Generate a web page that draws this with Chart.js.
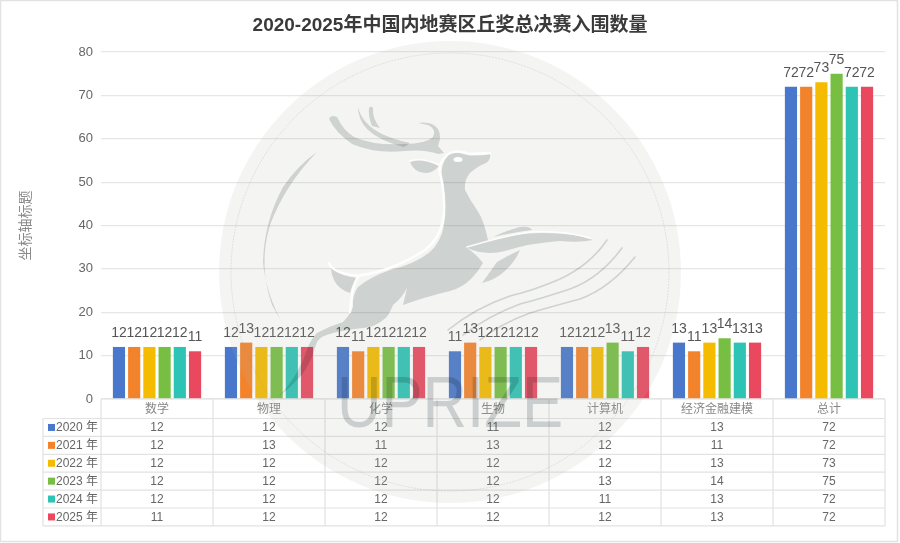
<!DOCTYPE html>
<html>
<head>
<meta charset="utf-8">
<style>
    html, body { margin: 0; padding: 0; background: #fff; }
    canvas { display: block; }
</style>
<script src="https://cdn.jsdelivr.net/npm/chart.js@4"></script>
</head>
<body>
<canvas id="finalistChart" width="900" height="543"></canvas>
<script>
// DATA

const subjects = ["数学", "物理", "化学", "生物", "计算机", "经济金融建模", "总计"];
const yearNames = ["2020 年", "2021 年", "2022 年", "2023 年", "2024 年", "2025 年"];
const values2020 = [12, 12, 12, 11, 12, 13, 72];
const values2021 = [12, 13, 11, 13, 12, 11, 72];
const values2022 = [12, 12, 12, 12, 12, 13, 73];
const values2023 = [12, 12, 12, 12, 13, 14, 75];
const values2024 = [12, 12, 12, 12, 11, 13, 72];
const values2025 = [11, 12, 12, 12, 12, 13, 72];
const yearValues = [values2020, values2021, values2022, values2023, values2024, values2025];
const yearColors = ["#4877cb", "#f2832b", "#f4bb00", "#76bf42", "#2dc3b5", "#e9485f"];

const FONT = '"Liberation Sans", "Noto Sans CJK SC", sans-serif';
const GRID = "#e6e6e6";

// PLUGINS

// value above every bar
const valueLabels = {
    id: "valueLabels",
    afterDatasetsDraw(chart) {
        const ctx = chart.ctx;
        ctx.save();
        ctx.font = "14px " + FONT;
        ctx.fillStyle = "#555";
        ctx.textAlign = "center";
        ctx.textBaseline = "alphabetic";
        chart.data.datasets.forEach((ds, i) => {
            chart.getDatasetMeta(i).data.forEach((bar, j) => {
                ctx.fillText(ds.data[j], bar.x, bar.y - 10);
            });
        });
        ctx.restore();
    }
};

// data table under the axis, columns follow the category scale
const dataTable = {
    id: "dataTable",
    afterDraw(chart) {
        const ctx = chart.ctx;
        const x = chart.scales.x;
        const left = x.left;
        const right = x.right;
        const top = x.top;
        const headH = 19.5;
        const rowH = 17.9;
        const keyLeft = 43;
        const colW = (right - left) / subjects.length;
        const firstRow = top + headH;
        const bottom = firstRow + rowH * yearNames.length;

        ctx.save();
        ctx.strokeStyle = "#e2e2e2";
        ctx.lineWidth = 1.2;
        ctx.beginPath();
        ctx.moveTo(left, top);
        ctx.lineTo(right, top);
        for (let r = 0; r <= yearNames.length; r++) {
            ctx.moveTo(keyLeft, firstRow + r * rowH);
            ctx.lineTo(right, firstRow + r * rowH);
        }
        ctx.moveTo(keyLeft, firstRow);
        ctx.lineTo(keyLeft, bottom);
        for (let c = 0; c <= subjects.length; c++) {
            ctx.moveTo(left + c * colW, top);
            ctx.lineTo(left + c * colW, bottom);
        }
        ctx.stroke();

        ctx.font = "12px " + FONT;
        ctx.textBaseline = "middle";
        yearNames.forEach((name, r) => {
            const y = firstRow + (r + 0.5) * rowH;
            ctx.fillStyle = yearColors[r];
            ctx.fillRect(48, y - 3.5, 7, 7);
            ctx.fillStyle = "#666";
            ctx.textAlign = "left";
            ctx.fillText(name, 56, y + 0.5);
            ctx.textAlign = "center";
            yearValues[r].forEach((v, c) => {
                ctx.fillText(v, x.getPixelForValue(c), y + 0.5);
            });
        });
        ctx.restore();
    }
};

// grey frame round the picture
const frame = {
    id: "frame",
    beforeDraw(chart) {
        const ctx = chart.ctx;
        ctx.save();
        ctx.strokeStyle = "#e2e2e2";
        ctx.lineWidth = 1.5;
        ctx.beginPath();
        ctx.moveTo(0.5, 542);
        ctx.lineTo(0.5, 0.5);
        ctx.lineTo(897.5, 0.5);
        ctx.lineTo(897.5, 541.5);
        ctx.lineTo(0.5, 541.5);
        ctx.stroke();
        ctx.restore();
    }
};

function fillPath(ctx, d) {
    ctx.fill(new Path2D(d));
}

// leaping deer logo laid over the whole chart
const watermark = {
    id: "watermark",
    afterDraw(chart) {
        const ctx = chart.ctx;
        ctx.save();

        ctx.fillStyle = "rgba(182,182,176,0.15)";
        ctx.beginPath();
        ctx.arc(450, 272, 231, 0, Math.PI * 2);
        ctx.fill();

        ctx.strokeStyle = "rgba(150,150,150,0.45)";
        ctx.lineWidth = 0.5;
        ctx.setLineDash([2, 1]);
        ctx.beginPath();
        ctx.arc(450, 272, 219, 0, Math.PI * 2);
        ctx.stroke();
        ctx.setLineDash([]);

        ctx.globalCompositeOperation = "multiply";
        ctx.fillStyle = "#d8dcdc";

        // antlers
        fillPath(ctx, "M329 119 Q331 114 337 117 Q343 130 354 137 Q375 146 405 144 Q425 144 433 137 Q437 129 428 125 L418 123 Q432 121 438 129 Q442 136 438 146 L444 153 L438 154 Q425 149 405 151 Q375 154 352 144 Q335 132 329 119 Z");
        fillPath(ctx, "M358 107 Q362 124 382 134 Q395 140 410 143 L404 147 Q380 141 368 130 Q358 120 358 107 Z");
        fillPath(ctx, "M369 108 Q371 105 373 108 Q372 118 380 128 L372 126 Q368 116 369 108 Z");

        // head, neck, body and hind leg
        fillPath(ctx, "M442 178 Q440 165 448 155 Q456 151 463 154 Q475 157 490 154 Q491 160 486 163 Q478 166 470 173 Q464 180 465 190 Q470 200 477 210 Q484 220 488 240 L467 248 Q476 254 483 263 Q478 272 472 278 Q462 288 450 291 Q425 297 403 305 L407 288 Q402 298 393 305 Q388 318 383 320 Q375 327 363 328 Q345 330 333 333 Q320 336 317 342 Q314 350 312 357 Q305 372 300 377 Q290 388 278 397 Q290 385 297 372 Q304 360 308 347 Q312 338 317 333 Q330 326 343 322 Q350 315 353 307 Q352 295 358 287 Q370 277 390 270 Q415 264 430 252 Q441 242 444 225 Q446 205 442 178 Z");
        // ear
        fillPath(ctx, "M410 162 Q420 158 430 161 L439 166 Q434 172 427 173 Q415 174 410 162 Z");
        // tail
        fillPath(ctx, "M331 268 Q340 276 358 278 Q352 284 350 293 Q338 289 334 280 Q331 274 331 268 Z");
        // front legs
        fillPath(ctx, "M467 248 Q480 241 495 239 Q520 232 545 233 Q575 233 593 240 Q580 243 560 241 Q530 243 505 251 Q485 256 467 248 Z");
        fillPath(ctx, "M493 237 Q505 231 520 227 Q530 226 532 230 Q510 233 493 237 Z");
        fillPath(ctx, "M520 250 Q515 262 505 271 Q495 280 482 283 Q490 272 497 262 Q507 256 520 250 Z");
        // crescent on the left
        fillPath(ctx, "M317 152 Q285 185 270 225 Q258 265 272 305 L284 326 Q266 295 263 262 Q264 222 283 187 Q298 165 317 152 Z");

        // wind lines
        ctx.strokeStyle = "#d8dcdc";
        ctx.lineCap = "round";
        ctx.lineWidth = 1.6;
        ["M607 240 Q590 265 560 279 Q535 290 510 296 Q475 308 448 330",
         "M622 248 Q600 278 570 289 Q540 299 520 304 Q490 315 463 335",
         "M635 257 Q610 288 580 299 Q550 307 530 313 Q500 324 480 340"].forEach(d => {
            ctx.stroke(new Path2D(d));
        });

        // logo lettering
        ctx.font = "72px " + FONT;
        ctx.fillStyle = "#d4d8d8";
        ctx.textAlign = "left";
        ctx.textBaseline = "alphabetic";
        ctx.fillText("UPRIZE", 337, 427, 226);

        // white edge along the deer and the eye
        ctx.globalCompositeOperation = "source-over";
        ctx.strokeStyle = "rgba(255,255,255,0.95)";
        ctx.lineWidth = 2.5;
        ctx.stroke(new Path2D("M329 263 Q332 273 358 276 Q395 270 425 250 Q441 238 444 215 Q445 195 441 177 Q436 165 448 154 Q456 149 470 154 L490 153"));
        ctx.stroke(new Path2D("M358 277 Q352 285 350 312"));
        ctx.lineWidth = 1.5;
        ctx.stroke(new Path2D("M467 247 Q500 237 530 232 Q560 230 590 238"));
        ctx.stroke(new Path2D("M410 161 Q422 157 439 165"));
        ctx.fillStyle = "#fff";
        ctx.beginPath();
        ctx.ellipse(458, 159.5, 4.5, 2.5, 0, 0, Math.PI * 2);
        ctx.fill();

        ctx.restore();
    }
};

// CHART

new Chart(document.getElementById("finalistChart"), {
    type: "bar",
    data: {
        labels: subjects,
        datasets: yearNames.map((name, i) => ({
            label: name,
            data: yearValues[i],
            backgroundColor: yearColors[i],
            borderWidth: 0,
            categoryPercentage: 0.815,
            barPercentage: 0.8
        }))
    },
    options: {
        responsive: false,
        animation: false,
        devicePixelRatio: 1,
        layout: { padding: { left: 15, right: 15, top: 0, bottom: 0 } },
        plugins: {
            legend: { display: false },
            tooltip: { enabled: false },
            title: {
                display: true,
                text: "2020-2025年中国内地赛区丘奖总决赛入围数量",
                color: "#3a3a3a",
                font: { family: FONT, size: 19, weight: "bold" },
                padding: { top: 14.6, bottom: 14.6 }
            }
        },
        scales: {
            x: {
                grid: { display: false, drawTicks: false },
                border: { display: false },
                ticks: {
                    color: "#888",
                    font: { family: FONT, size: 12 },
                    padding: 3,
                    maxRotation: 0,
                    autoSkip: false
                },
                afterFit(scale) { scale.height = 144; }
            },
            y: {
                min: 0,
                max: 80,
                grid: { color: GRID, lineWidth: 1.2, drawTicks: false },
                border: { display: false },
                ticks: {
                    stepSize: 10,
                    color: "#666",
                    font: { family: FONT, size: 13 },
                    padding: 8
                },
                title: {
                    display: true,
                    text: "坐标轴标题",
                    color: "#8a8a8a",
                    font: { family: FONT, size: 14 },
                    padding: { top: 3, bottom: 0 }
                },
                afterFit(scale) { scale.width = 86; }
            }
        }
    },
    plugins: [frame, valueLabels, dataTable, watermark]
});
</script>
</body>
</html>
